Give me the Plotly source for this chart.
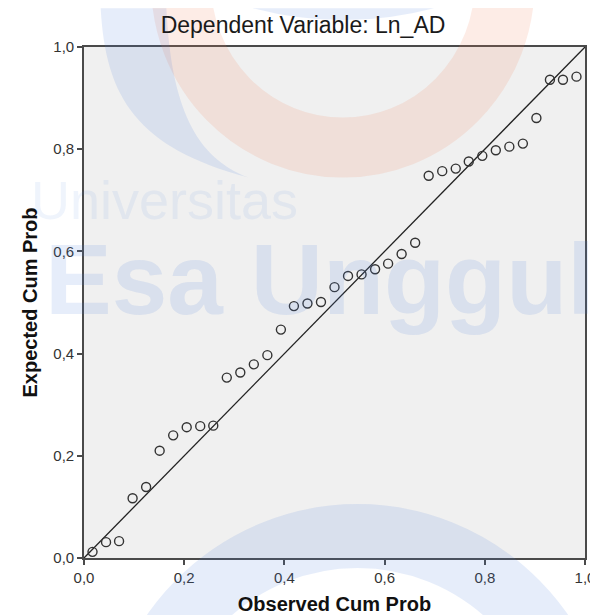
import plotly.graph_objects as go

# ---- data ----
observed_cum_prob = [0.017, 0.044, 0.070, 0.097, 0.124, 0.151, 0.178, 0.205, 0.232,
                     0.258, 0.285, 0.312, 0.339, 0.366, 0.393, 0.419, 0.446, 0.473,
                     0.500, 0.527, 0.554, 0.581, 0.607, 0.634, 0.661, 0.688, 0.715,
                     0.742, 0.768, 0.795, 0.822, 0.849, 0.876, 0.903, 0.930, 0.956, 0.983]
expected_cum_prob = [0.012, 0.031, 0.033, 0.117, 0.139, 0.210, 0.240, 0.256, 0.258,
                     0.259, 0.353, 0.363, 0.379, 0.397, 0.447, 0.493, 0.498, 0.501,
                     0.530, 0.552, 0.555, 0.565, 0.576, 0.595, 0.617, 0.748, 0.757,
                     0.762, 0.776, 0.787, 0.798, 0.805, 0.811, 0.861, 0.936, 0.936, 0.942]
ref_line_x = [0.0, 1.0]
ref_line_y = [0.0, 1.0]
tick_vals = [0.0, 0.2, 0.4, 0.6, 0.8, 1.0]
tick_text = ["0,0", "0,2", "0,4", "0,6", "0,8", "1,0"]

W, H = 598, 615
ML, MR, MT, MB = 76, 11, 39, 63
PW, PH = W - ML - MR, H - MT - MB


def px(xp):
    return (xp - ML) / PW


def py(yp):
    return (H - MB - yp) / PH


fig = go.Figure()

fig.add_trace(go.Scatter(
    x=ref_line_x, y=ref_line_y, mode="lines",
    line=dict(color="#222222", width=1.3), hoverinfo="skip", showlegend=False))

fig.add_trace(go.Scatter(
    x=observed_cum_prob, y=expected_cum_prob, mode="markers",
    marker=dict(symbol="circle-open", size=9, color="#333333",
                line=dict(width=1.4, color="#333333")),
    showlegend=False))

# ---- faint watermark (background of the reference image) ----
blue = "rgba(80,130,220,0.14)"
blue_txt = "rgba(80,130,220,0.14)"
orange = "rgba(240,130,90,0.15)"
shapes = []


def circ(cx, cy, r, color, w):
    return dict(type="circle", xref="paper", yref="paper",
                x0=px(cx - r), x1=px(cx + r), y0=py(cy + r), y1=py(cy - r),
                line=dict(color=color, width=w), fillcolor="rgba(0,0,0,0)",
                layer="above")


def path(points_cmd, color):
    return dict(type="path", xref="paper", yref="paper", path=points_cmd,
                fillcolor=color, line=dict(width=0), layer="above")


shapes.append(circ(340, -25, 165, orange, 60))
shapes.append(circ(355, 760, 230, blue, 64))
swoosh = "M {:.4f},{:.4f} C {:.4f},{:.4f} {:.4f},{:.4f} {:.4f},{:.4f} C {:.4f},{:.4f} {:.4f},{:.4f} {:.4f},{:.4f} Z".format(
    px(93), py(0), px(98), py(90), px(130), py(140), px(244), py(170),
    px(190), py(150), px(165), py(100), px(160), py(0))
shapes.append(path(swoosh, blue))
blob = "M {:.4f},{:.4f} Q {:.4f},{:.4f} {:.4f},{:.4f} Z".format(
    px(248), py(0), px(340), py(24), px(433), py(0))
shapes.append(path(blob, blue))

annotations = [
    dict(text="Universitas", xref="paper", yref="paper", x=px(20), y=py(193),
         xanchor="left", yanchor="middle", showarrow=False,
         font=dict(family="Liberation Sans, Arial", size=54, color="rgba(80,130,220,0.09)")),
    dict(text="<b>Esa Unggul</b>", xref="paper", yref="paper", x=px(34), y=py(272),
         xanchor="left", yanchor="middle", showarrow=False,
         font=dict(family="Liberation Sans, Arial", size=100, color=blue_txt)),
]

axis_common = dict(
    range=[0, 1], tickvals=tick_vals, ticktext=tick_text,
    showgrid=False, zeroline=False, showline=True, mirror=True,
    linecolor="#4a4a4a", linewidth=1.6, ticks="outside", ticklen=5,
    tickwidth=1.5, tickcolor="#4a4a4a",
    tickfont=dict(family="Liberation Sans, Arial", size=15, color="#333333"),
    fixedrange=True,
)

fig.update_layout(
    width=W, height=H,
    margin=dict(l=ML, r=MR, t=MT, b=MB, pad=0),
    paper_bgcolor="white", plot_bgcolor="#f0f0f0",
    title=dict(text="Dependent Variable: Ln_AD", x=295 / W, xanchor="center",
               y=1 - 17 / H, yanchor="middle",
               font=dict(family="Liberation Sans, Arial", size=23, color="#1a1a1a")),
    xaxis=dict(axis_common,
               title=dict(text="<b>Observed Cum Prob</b>", standoff=12,
                          font=dict(family="Liberation Sans, Arial", size=20, color="#111111"))),
    yaxis=dict(axis_common,
               title=dict(text="<b>Expected Cum Prob</b>", standoff=10,
                          font=dict(family="Liberation Sans, Arial", size=20, color="#111111"))),
    shapes=shapes, annotations=annotations,
)

fig.write_html("out.html")
